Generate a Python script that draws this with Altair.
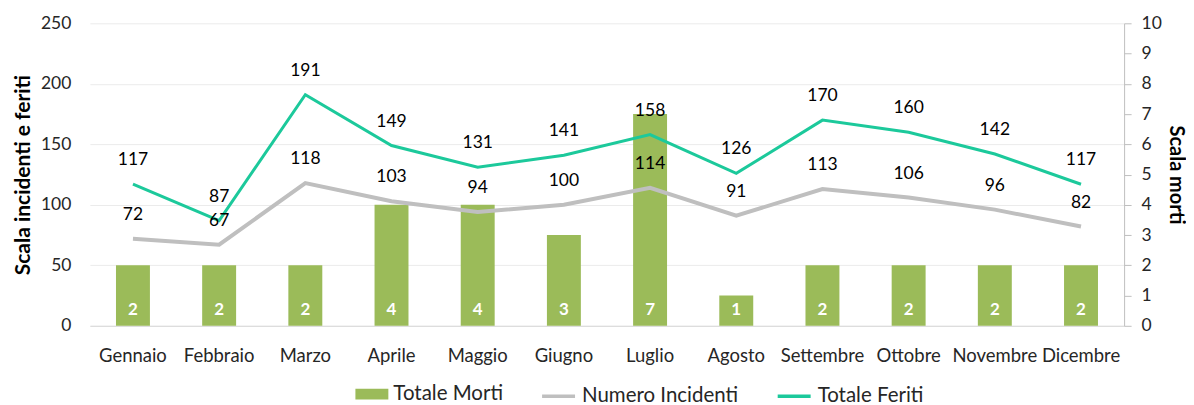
import altair as alt
import pandas as pd

mesi = ["Gennaio", "Febbraio", "Marzo", "Aprile", "Maggio", "Giugno",
        "Luglio", "Agosto", "Settembre", "Ottobre", "Novembre", "Dicembre"]
totale_morti = [2, 2, 2, 4, 4, 3, 7, 1, 2, 2, 2, 2]
numero_incidenti = [72, 67, 118, 103, 94, 100, 114, 91, 113, 106, 96, 82]
totale_feriti = [117, 87, 191, 149, 131, 141, 158, 126, 170, 160, 142, 117]

df = pd.DataFrame({
    "mese": mesi,
    "morti": totale_morti,
    "incidenti": numero_incidenti,
    "feriti": totale_feriti,
})

FONT = "Lato"
GREEN = "#9BBB59"
GRAY = "#BFBFBF"
TEAL = "#1CC99B"
TXT = "#262626"
W, H = 1036, 303

x = alt.X("mese:N", sort=mesi,
          scale=alt.Scale(paddingInner=0.61, paddingOuter=0.305),
          axis=alt.Axis(title=None, labelAngle=0, ticks=False, domainColor="#D9D9D9",
                        labelFontSize=18.5, labelColor=TXT, labelPadding=21,
                        labelFont=FONT, grid=False))

right_axis = alt.Axis(title="Scala morti", orient="right",
                      values=list(range(0, 11)), grid=False,
                      domainColor=GRAY, tickColor=GRAY, tickSize=7,
                      labelFontSize=17.5, labelColor=TXT, labelFont=FONT,
                      labelPadding=10, titleFontSize=20, titleFont=FONT,
                      titleFontWeight="bold", titleColor="#000000",
                      titlePadding=4)
right_scale = alt.Scale(domain=[0, 10], nice=False)

fill_scale = alt.Scale(domain=["Totale Morti"], range=[GREEN])
bars = alt.Chart(df).mark_bar(size=34).encode(
    x=x,
    y=alt.Y("morti:Q", scale=right_scale, axis=right_axis),
    fill=alt.Fill("cat:N", scale=fill_scale,
                  legend=alt.Legend(title=None, orient="none", legendX=266, legendY=355,
                                    symbolType="M-1,-0.33H1V0.33H-1Z", symbolSize=1089,
                                    symbolStrokeWidth=0, labelLimit=400,
                                    labelFontSize=20.5, labelFont=FONT, labelColor=TXT,
                                    labelOffset=5)),
).transform_calculate(cat="'Totale Morti'")

bar_text = alt.Chart(df).mark_text(color="white", fontWeight="bold", fontSize=17,
                                    font=FONT, dy=-16).encode(
    x=x,
    y=alt.Y("zero:Q", scale=right_scale, axis=right_axis),
    text="morti:Q",
).transform_calculate(zero="0")

right = alt.layer(bars, bar_text)

stroke_scale = alt.Scale(domain=["Numero Incidenti", "Totale Feriti"], range=[GRAY, TEAL])
stroke_legend = alt.Legend(title=None, orient="none", legendX=451, legendY=355,
                           direction="horizontal", symbolType="stroke", symbolSize=1089,
                           symbolStrokeWidth=3.5, labelFontSize=20.5, labelFont=FONT,
                           labelColor=TXT, columnPadding=32, labelOffset=5, labelLimit=400)

y_left_scale = alt.Scale(domain=[0, 250], nice=False)
y_left_axis = alt.Axis(title="Scala incidenti e feriti", orient="left",
                       values=[0, 50, 100, 150, 200, 250], grid=True, gridColor="#EBEBEB",
                       domain=False, ticks=False, labelFontSize=17.5, labelColor=TXT,
                       labelFont=FONT, labelPadding=19, titleFontSize=21, titleFont=FONT,
                       titleFontWeight="bold", titleColor="#000000", titlePadding=7)

line_inc = alt.Chart(df).mark_line(strokeWidth=4).encode(
    x=x,
    y=alt.Y("incidenti:Q", scale=y_left_scale, axis=y_left_axis),
    stroke=alt.Stroke("serie:N", scale=stroke_scale, legend=stroke_legend),
).transform_calculate(serie="'Numero Incidenti'")
line_fer = alt.Chart(df).mark_line(strokeWidth=3).encode(
    x=x,
    y=alt.Y("feriti:Q", scale=y_left_scale, axis=y_left_axis),
    stroke=alt.Stroke("serie:N", scale=stroke_scale, legend=stroke_legend),
).transform_calculate(serie="'Totale Feriti'")
text_inc = alt.Chart(df).mark_text(dy=-24, fontSize=17.5, font=FONT, color="#000000").encode(
    x=x, y=alt.Y("incidenti:Q", scale=y_left_scale, axis=y_left_axis), text="incidenti:Q")
text_fer = alt.Chart(df).mark_text(dy=-24, fontSize=17.5, font=FONT, color="#000000").encode(
    x=x, y=alt.Y("feriti:Q", scale=y_left_scale, axis=y_left_axis), text="feriti:Q")

left = alt.layer(line_inc, line_fer, text_inc, text_fer)

chart = alt.layer(right, left).resolve_scale(
    y="independent", fill="independent", stroke="independent"
).properties(
    width=W, height=H,
    padding={"left": 4, "top": 6, "right": 0, "bottom": 0},
).configure_view(stroke=None)

chart.save("out.html", embed_options={"renderer": "svg", "actions": False})
